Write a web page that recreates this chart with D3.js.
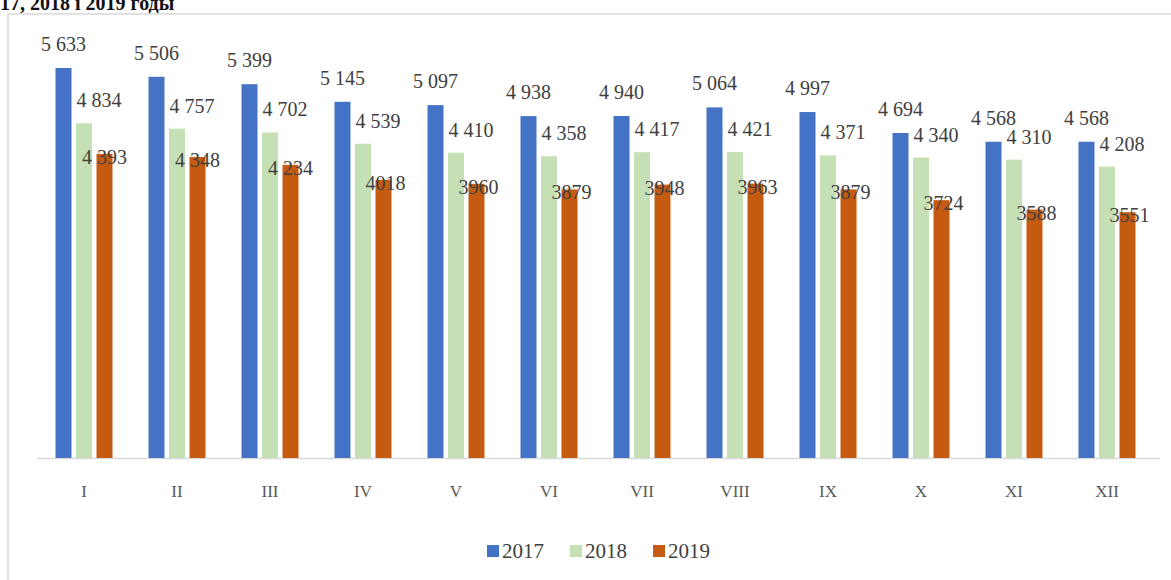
<!DOCTYPE html><html><head><meta charset="utf-8"><script src="https://cdn.jsdelivr.net/npm/d3@7"></script>
<style>body{margin:0;background:#fff}</style></head><body><svg id="c" width="1171" height="580" font-family="'Liberation Serif', 'Times New Roman', 'DejaVu Serif', serif"></svg>
<script>
const months=["I","II","III","IV","V","VI","VII","VIII","IX","X","XI","XII"];
const y2017=[5633,5506,5399,5145,5097,4938,4940,5064,4997,4694,4568,4568];
const y2018=[4834,4757,4702,4539,4410,4358,4417,4421,4371,4340,4310,4208];
const y2019=[4393,4348,4234,4018,3960,3879,3948,3963,3879,3724,3588,3551];
const years=["2017","2018","2019"];
const colors=["#4472C4","#C5E0B4","#C55A11"];
const series=[y2017,y2018,y2019];
const fmt=v=>{const s=String(v);return s.slice(0,1)+" "+s.slice(1);};
const labelFmt=[fmt,fmt,(v,i)=>[0,1,2].includes(i)?fmt(v):String(v)];
const svg=d3.select("#c");
svg.append("text").attr("x",-20).attr("y",10).attr("font-weight","bold").attr("font-size",20).attr("fill","#111").text("2017, 2018 і 2019 годы");
svg.append("rect").attr("x",8).attr("y",14).attr("width",1180).attr("height",580).attr("fill","none").attr("stroke","#d9d9d9").attr("stroke-width",1.5);
const x=d3.scaleBand().domain(months).range([37.5,1153.5]);
const y=d3.scaleLinear().domain([0,6000]).range([458,42.6]);
const bw=16,gap=4.5;
svg.append("line").attr("x1",37).attr("x2",1160).attr("y1",458.5).attr("y2",458.5).attr("stroke","#d9d9d9").attr("stroke-width",1.5);
series.forEach((s,k)=>{
  const g=svg.append("g");
  const cx=i=>x(months[i])+x.bandwidth()/2+(k-1)*(bw+gap);
  g.selectAll("rect").data(s).join("rect").attr("x",(d,i)=>cx(i)-bw/2).attr("width",bw)
   .attr("y",d=>y(d)).attr("height",d=>458-y(d)).attr("fill",colors[k]);
  g.selectAll("text").data(s).join("text").attr("text-anchor","middle").attr("font-size",20).attr("fill","#404040")
   .attr("x",(d,i)=>cx(i)+(k==1?15:k==2&&i>2?2:0)).attr("y",d=>y(d)+(k==0?-24:k==1?-23:3)+7)
   .text((d,i)=>labelFmt[k](d,i));
});
svg.append("g").selectAll("text").data(months).join("text").attr("x",d=>x(d)+x.bandwidth()/2).attr("y",497)
 .attr("text-anchor","middle").attr("font-size",17).attr("fill","#595959").text(d=>d);
const lg=svg.append("g");
years.forEach((t,k)=>{const lx=487+k*83;
 lg.append("rect").attr("x",lx).attr("y",545).attr("width",12).attr("height",12).attr("fill",colors[k]);
 lg.append("text").attr("x",lx+15).attr("y",558).attr("font-size",21).attr("fill","#404040").text(t);});
</script></body></html>
